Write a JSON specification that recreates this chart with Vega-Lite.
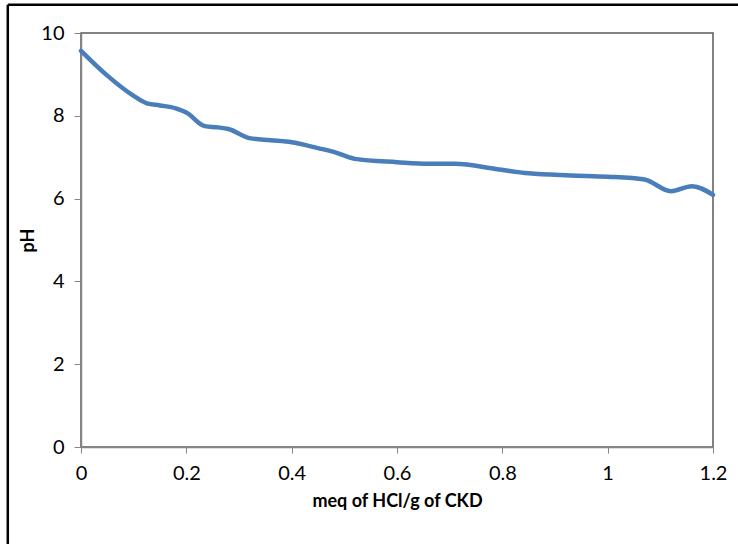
{
  "$schema": "https://vega.github.io/schema/vega-lite/v6.json",
  "width": 632,
  "height": 414,
  "autosize": "none",
  "padding": {"left": 81, "top": 33, "right": 25, "bottom": 97},
  "background": "white",
  "config": {
    "view": {"stroke": "#595959", "strokeWidth": 1.5},
    "font": "Lato"
  },
  "layer": [
    {
      "data": {"values": [
        {"x": 0, "pH": 9.57},
        {"x": 0.05, "pH": 8.97},
        {"x": 0.1, "pH": 8.48},
        {"x": 0.125, "pH": 8.3},
        {"x": 0.15, "pH": 8.25},
        {"x": 0.18, "pH": 8.18},
        {"x": 0.2, "pH": 8.08},
        {"x": 0.235, "pH": 7.75},
        {"x": 0.26, "pH": 7.72},
        {"x": 0.28, "pH": 7.68},
        {"x": 0.32, "pH": 7.46},
        {"x": 0.36, "pH": 7.41},
        {"x": 0.4, "pH": 7.36},
        {"x": 0.45, "pH": 7.22},
        {"x": 0.48, "pH": 7.13},
        {"x": 0.52, "pH": 6.96},
        {"x": 0.6, "pH": 6.88},
        {"x": 0.66, "pH": 6.84},
        {"x": 0.71, "pH": 6.84},
        {"x": 0.79, "pH": 6.71},
        {"x": 0.85, "pH": 6.61},
        {"x": 0.93, "pH": 6.56},
        {"x": 1.0, "pH": 6.53},
        {"x": 1.07, "pH": 6.46},
        {"x": 1.12, "pH": 6.18},
        {"x": 1.16, "pH": 6.3},
        {"x": 1.2, "pH": 6.09}
      ]},
      "mark": {"type": "line", "interpolate": "monotone", "color": "#4A7EBB", "strokeWidth": 4.5, "strokeCap": "round"},
      "encoding": {
        "x": {
          "field": "x", "type": "quantitative",
          "scale": {"domain": [0, 1.2], "nice": false, "zero": false},
          "axis": {
            "values": [0, 0.2, 0.4, 0.6, 0.8, 1, 1.2],
            "format": "~g",
            "grid": false,
            "title": "meq of HCl/g of CKD",
            "titleFont": "Lato", "titleFontSize": 18, "titleFontWeight": "bold", "titleColor": "#000000",
            "titlePadding": 9,
            "labelFont": "Lato", "labelFontSize": 20, "labelColor": "#000000", "labelPadding": 10,
            "labelFlush": false,
            "domainColor": "#868686", "domainWidth": 1.5,
            "tickColor": "#868686", "tickSize": 6, "tickWidth": 1
          }
        },
        "y": {
          "field": "pH", "type": "quantitative",
          "scale": {"domain": [0, 10], "nice": false},
          "axis": {
            "values": [0, 2, 4, 6, 8, 10],
            "grid": false,
            "title": "pH",
            "titleFont": "Lato", "titleFontSize": 18, "titleFontWeight": "bold", "titleColor": "#000000",
            "titlePadding": 3,
            "labelFont": "Lato", "labelFontSize": 20, "labelColor": "#000000", "labelPadding": 10,
            "domainColor": "#868686", "domainWidth": 1.5,
            "tickColor": "#868686", "tickSize": 7, "tickWidth": 1
          }
        }
      }
    },
    {
      "data": {"values": [{"x0": -0.139, "x1": 1.3, "y0": 10.68}]},
      "mark": {"type": "rule", "color": "#000000", "strokeWidth": 2.5, "clip": false},
      "encoding": {
        "x": {"field": "x0", "type": "quantitative"},
        "x2": {"field": "x1"},
        "y": {"field": "y0", "type": "quantitative"}
      }
    },
    {
      "data": {"values": [{"x0": -0.139, "y0": 10.68, "y1": -2.5}]},
      "mark": {"type": "rule", "color": "#000000", "strokeWidth": 2.5, "clip": false},
      "encoding": {
        "x": {"field": "x0", "type": "quantitative"},
        "y": {"field": "y0", "type": "quantitative"},
        "y2": {"field": "y1"}
      }
    }
  ]
}
